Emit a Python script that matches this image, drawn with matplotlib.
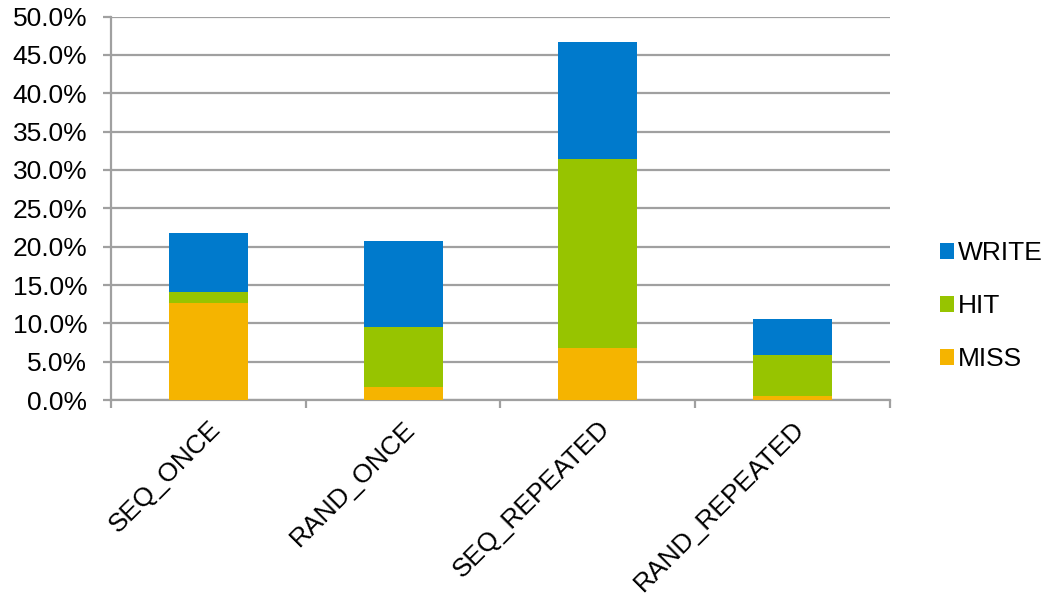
import numpy as np
import matplotlib
matplotlib.use("Agg")
import matplotlib.pyplot as plt
from matplotlib.ticker import PercentFormatter

plt.rcParams["font.family"] = ["Liberation Sans", "DejaVu Sans"]

# access pattern breakdown (percent of accesses)
categories = ["SEQ_ONCE", "RAND_ONCE", "SEQ_REPEATED", "RAND_REPEATED"]
miss = [12.65, 1.75, 6.80, 0.50]
hit = [1.40, 7.75, 24.60, 5.35]
write = [7.70, 11.25, 15.25, 4.75]

c_write = "#007acc"
c_hit = "#97c400"
c_miss = "#f5b400"
grid_c = "#a0a0a0"

fig = plt.figure(figsize=(10.47, 5.99), dpi=100)
ax = fig.add_axes([0.106, 0.3322, 0.744, 0.640])

x = np.arange(len(categories))
w = 0.405
miss_a = np.array(miss)
hit_a = np.array(hit)
write_a = np.array(write)
ax.bar(x, miss_a, w, color=c_miss, label="MISS", zorder=3)
ax.bar(x, hit_a, w, bottom=miss_a, color=c_hit, label="HIT", zorder=3)
ax.bar(x, write_a, w, bottom=miss_a + hit_a, color=c_write, label="WRITE", zorder=3)

ax.set_ylim(0, 50)
ax.set_xlim(-0.5, len(categories) - 0.5)
ax.set_yticks(np.arange(0, 50.1, 5))
ax.yaxis.set_major_formatter(PercentFormatter(decimals=1))
ax.yaxis.grid(True, color=grid_c, linewidth=1.6, zorder=0)

# category boundary ticks on the x axis, names centred on the bars
ax.set_xticks(np.arange(-0.5, len(categories)), minor=False)
ax.set_xticklabels([])
ax.set_xticks(x, minor=True)
ax.set_xticklabels(categories, minor=True, rotation=45, ha="right",
                   rotation_mode="anchor", fontsize=19)
ax.tick_params(axis="x", which="minor", length=0, pad=12)
ax.tick_params(axis="x", which="major", length=6, width=1.6, color=grid_c)
ax.tick_params(axis="y", length=6, width=1.6, color=grid_c, labelsize=19, pad=11)

for side in ["top", "right"]:
    ax.spines[side].set_visible(False)
for side in ["left", "bottom"]:
    ax.spines[side].set_color(grid_c)
    ax.spines[side].set_linewidth(1.6)

handles, labels = ax.get_legend_handles_labels()
ax.legend(handles[::-1], labels[::-1], loc="center left", bbox_to_anchor=(1.047, 0.245),
          frameon=False, fontsize=19, handlelength=0.55, handleheight=0.55,
          handletextpad=0.15, labelspacing=1.1, borderpad=0)

fig.savefig("out.png", dpi=100)
